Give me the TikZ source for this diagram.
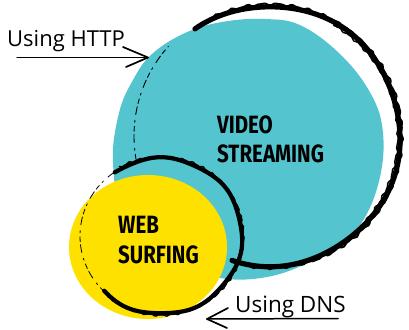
\documentclass[tikz,border=0pt]{standalone}
\usepackage{fontspec}
\setmainfont{Open Sans}
\newfontfamily\headfont[FakeStretch=0.82]{Fira Sans}
\definecolor{streamblue}{RGB}{84,196,207}
\definecolor{sunyellow}{RGB}{255,225,0}
\tikzset{
  brush/.style={line width=5.2pt, line cap=round, line join=round, black},
  ragged/.style={line width=2pt, line cap=round, line join=round, black},
  dryline/.style={line width=0.9pt, line cap=round, black,
    dash pattern=on 5pt off 4pt on 2pt off 6pt on 8pt off 3pt},
  heading/.style={inner sep=0pt, anchor=base west,
    font=\headfont\bfseries\fontsize{25}{29}\selectfont},
  caption/.style={inner sep=0pt, anchor=base west,
    font=\fontsize{22}{26}\selectfont},
  pen/.style={line width=1.5pt, line cap=round, line join=round, black}
}
\begin{document}
\begin{tikzpicture}[x=1pt,y=-1pt]
\useasboundingbox (0,0) rectangle (409,329);

% video streaming blob
\fill[streamblue] plot[smooth cycle, tension=0.65] coordinates {
  (185,33) (222,22) (265,19) (302,26) (343,57) (372,96) (383,133)
  (380,177) (364,219) (340,243) (310,262) (267,277) (220,278)
  (170,262) (125,215) (113,163) (119,113) (133,80) (152,54)};

% outline round the streaming blob: a smooth stroke with ragged edges
\draw[brush] plot[smooth, domain=-125:107, samples=90]
  ({270+(130+0.8*sin(5*\x))*cos(\x)}, {136+(130+0.8*sin(5*\x))*sin(\x)});
\draw[ragged] plot[domain=-118:100, samples=220]
  ({270+(131.8+0.9*sin(53*\x)+0.5*sin(97*\x))*cos(\x)},
   {136+(131.8+0.9*sin(53*\x)+0.5*sin(97*\x))*sin(\x)});
\draw[ragged, line width=1.4pt] plot[domain=-60:45, samples=120]
  ({270+(127.8+0.7*sin(61*\x)+0.4*sin(113*\x))*cos(\x)},
   {136+(127.8+0.7*sin(61*\x)+0.4*sin(113*\x))*sin(\x)});
\draw[dryline] plot[smooth, domain=170:222, samples=30]
  ({268+134*cos(\x)}, {136+134*sin(\x)});

% web surfing blob
\fill[sunyellow] (148,247) ellipse [x radius=79, y radius=72];

% outline round the surfing blob
\draw[brush, line width=4.2pt] plot[smooth, domain=-125:135, samples=90]
  ({161+(81+0.8*sin(7*\x))*cos(\x)}, {236+(78+0.8*sin(7*\x))*sin(\x)});
\draw[ragged, line width=1.4pt] plot[domain=-120:130, samples=200]
  ({161+(82.3+0.7*sin(47*\x)+0.4*sin(89*\x))*cos(\x)},
   {236+(79.3+0.7*sin(47*\x)+0.4*sin(89*\x))*sin(\x)});
\draw[dryline, line width=0.8pt] plot[smooth, domain=135:235, samples=30]
  ({161+81*cos(\x)}, {236+78*sin(\x)});

% labels inside the blobs
\node[heading] (video) at (217,133) {VIDEO};
\node[heading] (streaming) at (217,162) {STREAMING};
\node[heading] (web) at (118,233) {WEB};
\node[heading] (surfing) at (118,263) {SURFING};

% HTTP arrow
\node[caption] (http) at (7,47) {Using HTTP};
\coordinate (httpTail) at (17,57.5);
\coordinate (httpTip) at (148,57.5);
\coordinate (httpUp) at (123,47);
\coordinate (httpDown) at (126,67);
\draw[pen] (httpTail) -- (httpTip);
\draw[pen, line width=1.7pt] (httpUp) -- (httpTip) -- (httpDown);

% DNS arrow
\node[caption, font=\fontsize{22.5}{26}\selectfont] (dns) at (235,312) {Using DNS};
\coordinate (dnsTail) at (338,318.5);
\coordinate (dnsTip) at (207,319);
\coordinate (dnsUp) at (228,308);
\coordinate (dnsDown) at (227,328);
\draw[pen] (dnsTail) -- (dnsTip);
\draw[pen, line width=1.7pt] (dnsUp) -- (dnsTip) -- (dnsDown);
\end{tikzpicture}
\end{document}
